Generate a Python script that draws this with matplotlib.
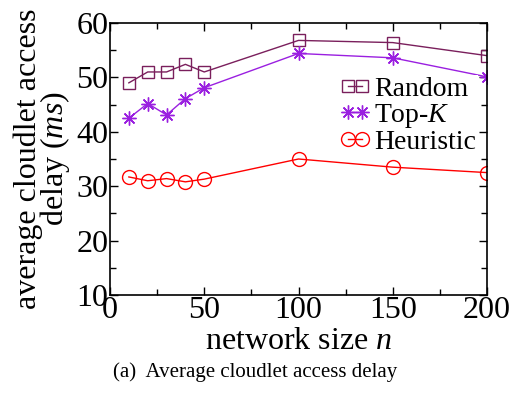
import matplotlib
matplotlib.use("Agg")
import matplotlib.pyplot as plt

plt.rcParams["font.family"] = ["Liberation Serif", "DejaVu Serif"]
plt.rcParams["mathtext.fontset"] = "custom"
plt.rcParams["mathtext.rm"] = "Liberation Serif"
plt.rcParams["mathtext.it"] = "Liberation Serif:italic"

# datos
network_size = [10, 20, 30, 40, 50, 100, 150, 200]
random_delay = [49.0, 51.0, 51.0, 52.4, 51.0, 56.8, 56.4, 54.0]
topk_delay = [42.5, 45.2, 43.1, 46.1, 48.1, 54.4, 53.6, 50.1]
heuristic_delay = [31.7, 31.0, 31.4, 30.8, 31.3, 35.0, 33.5, 32.5]

x_ticks = [0, 50, 100, 150, 200]
y_ticks = [10, 20, 30, 40, 50, 60]

fig = plt.figure(figsize=(5.1, 3.93), dpi=100)
ax = fig.add_axes([110 / 510, 1 - 295 / 393, 377 / 510, 272 / 393])

ax.plot(network_size, random_delay, color="#7a1f5c", lw=1, marker="s",
        ms=9, mfc="none", mec="#7a1f5c", mew=1, label="Random")
ax.plot(network_size, topk_delay, color="#9a1fe0", lw=1, marker=(8, 2, 0),
        ms=10, mew=1, label="Top-$\\mathit{K}$")
ax.plot(network_size, heuristic_delay, color="#ff0000", lw=1, marker="o",
        ms=10, mfc="none", mec="#ff0000", mew=1, label="Heuristic")

ax.set_xlim(0, 200)
ax.set_ylim(10, 60)
ax.set_xticks(x_ticks)
ax.set_yticks(y_ticks)
ax.set_xticks(range(0, 201, 25), minor=True)
ax.set_yticks(range(10, 61, 5), minor=True)
ax.tick_params(which="both", direction="in", top=True, right=True,
               labelsize=23, width=1)
ax.tick_params(which="major", length=6, pad=1)
ax.tick_params(which="minor", length=4)
for s in ax.spines.values():
    s.set_linewidth(1.2)

ax.set_xlabel("network size $\\mathit{n}$", fontsize=23, labelpad=1)
ax.set_ylabel("average cloudlet access\ndelay ($\\mathit{ms}$)", fontsize=23,
              linespacing=0.8, labelpad=3)

leg = ax.legend(loc="upper right", bbox_to_anchor=(0.975, 0.81), fontsize=20,
                numpoints=2, handlelength=1.1, handletextpad=0.15,
                labelspacing=0.0, borderpad=0.05, borderaxespad=0,
                frameon=True, fancybox=False, edgecolor="none", framealpha=1)

fig.text(0.5, 1 - 372 / 393, "(a)  Average cloudlet access delay",
         ha="center", va="center", fontsize=15)

fig.savefig("out.png", dpi=100)
